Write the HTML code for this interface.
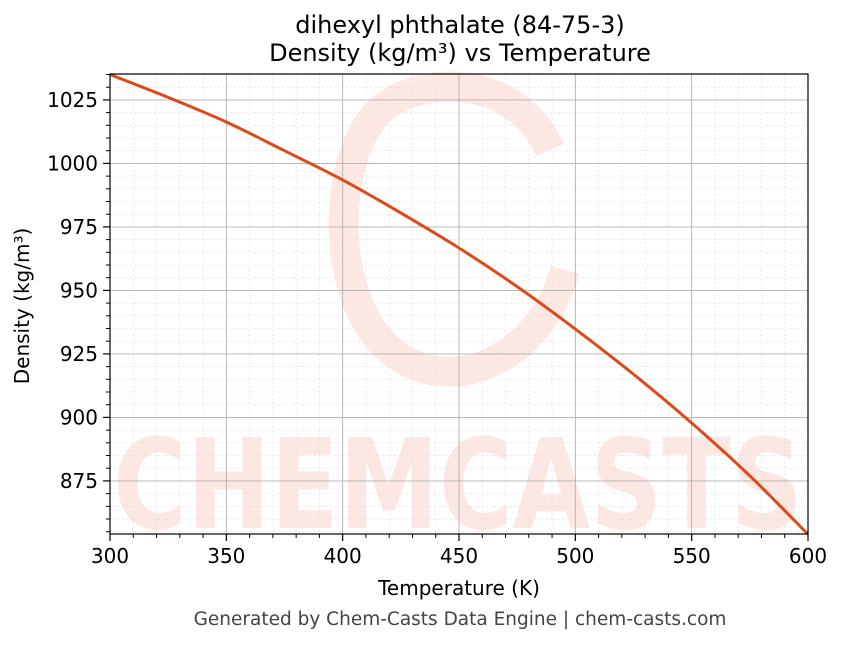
<!DOCTYPE html>
<html><head><meta charset="utf-8"><style>
body{margin:0;background:#fff;width:843px;height:644px;overflow:hidden;font-family:"DejaVu Sans","Liberation Sans",sans-serif}
</style></head><body>
<svg id="chart" width="843" height="644" xmlns="http://www.w3.org/2000/svg" font-family="DejaVu Sans, Liberation Sans, sans-serif">
<g id="wm" opacity="0.12" fill="#f04020">
<text x="458" y="528" font-size="125" font-weight="bold" text-anchor="middle" textLength="690" lengthAdjust="spacingAndGlyphs">CHEMCASTS</text>
<path d="M550,150 C520,80 430,70 380,110 C330,160 330,300 390,350 C450,400 540,360 565,270" fill="none" stroke="#f04020" stroke-width="30"/>
</g>
<g id="grid"></g><g id="ticks"></g>
<path id="curve" fill="none" stroke="#dd4a19" stroke-width="3"/>
<rect x="110" y="74" width="698" height="460" fill="none" stroke="#000" stroke-width="1.2"/>
<text x="460" y="33" font-size="24" text-anchor="middle">dihexyl phthalate (84-75-3)</text>
<text x="460" y="61" font-size="24" text-anchor="middle">Density (kg/m³) vs Temperature</text>
<text x="459" y="595" font-size="20" text-anchor="middle">Temperature (K)</text>
<text transform="translate(29,306) rotate(-90)" font-size="20" text-anchor="middle">Density (kg/m³)</text>
<text x="460" y="625" font-size="18.5" fill="#444" text-anchor="middle">Generated by Chem-Casts Data Engine | chem-casts.com</text>
</svg>
<script>
const temps=[300,325,350,375,400,425,450,475,500,525,550,575,600];
const density=[1035,1026,1016.3,1005,993.5,980.5,966.7,951.5,934.8,917,897.8,877,854];
const xTicks=[300,350,400,450,500,550,600];
const yTicks=[875,900,925,950,975,1000,1025];
const X0=300,X1=600,Y0=854.1,Y1=1035.2,L=110,R=808,T=74,B=534;
const sx=v=>L+(v-X0)/(X1-X0)*(R-L);
const sy=v=>B-(v-Y0)/(Y1-Y0)*(B-T);
const NS="http://www.w3.org/2000/svg";
const grid=document.getElementById('grid'),ticks=document.getElementById('ticks');
function ln(p,x1,y1,x2,y2,st,w,da){const e=document.createElementNS(NS,'line');e.setAttribute('x1',x1);e.setAttribute('y1',y1);e.setAttribute('x2',x2);e.setAttribute('y2',y2);e.setAttribute('stroke',st);e.setAttribute('stroke-width',w);if(da)e.setAttribute('stroke-dasharray',da);p.appendChild(e);return e;}
for(let v=X0;v<=X1;v+=10){if(v%50){const x=sx(v);const g=ln(grid,x,T,x,B,'#ddd',0.6,'2,2');

ln(ticks,x,B,x,B+4,'#000',1);}}
for(let v=855;v<=1035;v+=5){if(v%25){const y=sy(v);const g=ln(grid,L,y,R,y,'#ddd',0.6,'2,2');

ln(ticks,L-4,y,L,y,'#000',1);}}
xTicks.forEach(v=>{const x=sx(v);const g=ln(grid,x,T,x,B,'#b0b0b0',0.9);


ln(ticks,x,B,x,B+7,'#000',1.2);const t=document.createElementNS(NS,'text');t.setAttribute('x',x);t.setAttribute('y',B+29);t.setAttribute('font-size','20');t.setAttribute('text-anchor','middle');t.textContent=v;

ticks.appendChild(t);});
yTicks.forEach(v=>{const y=sy(v);const g=ln(grid,L,y,R,y,'#b0b0b0',0.9);


ln(ticks,L-7,y,L,y,'#000',1.2);const t=document.createElementNS(NS,'text');t.setAttribute('x',L-12);t.setAttribute('y',y+7);t.setAttribute('font-size','20');t.setAttribute('text-anchor','end');t.textContent=v;

ticks.appendChild(t);});
const pts=temps.map((t,i)=>[sx(t),sy(density[i])]);
let d='M'+pts[0][0]+','+pts[0][1];
for(let i=0;i<pts.length-1;i++){const p0=pts[i-1]||pts[i],p1=pts[i],p2=pts[i+1],p3=pts[i+2]||p2;
d+=' C'+(p1[0]+(p2[0]-p0[0])/6)+','+(p1[1]+(p2[1]-p0[1])/6)+' '+(p2[0]-(p3[0]-p1[0])/6)+','+(p2[1]-(p3[1]-p1[1])/6)+' '+p2[0]+','+p2[1];}
document.getElementById('curve').setAttribute('d',d);
</script>
</body></html>
